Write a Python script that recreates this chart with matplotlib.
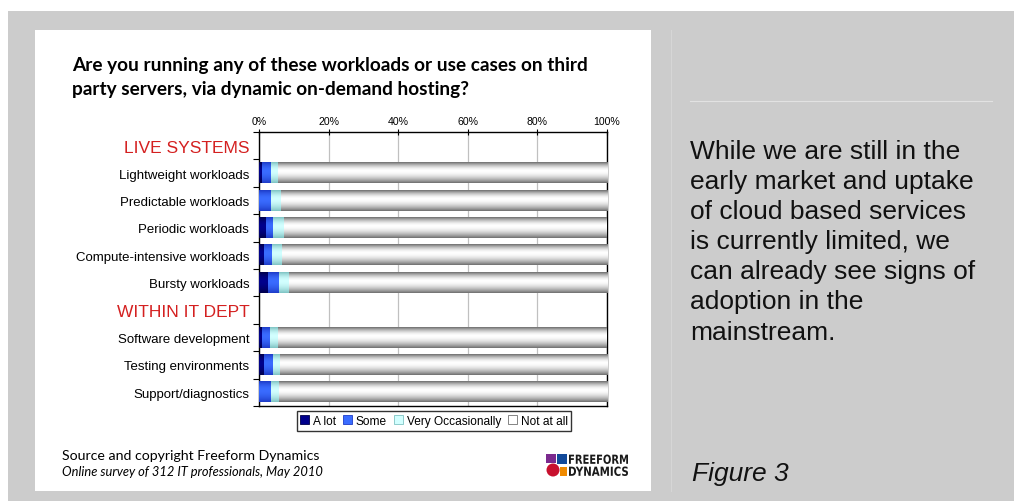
import numpy as np
import matplotlib
matplotlib.use("Agg")
import matplotlib.pyplot as plt
from matplotlib.patches import Rectangle, Ellipse, PathPatch
from matplotlib.lines import Line2D
from matplotlib.textpath import TextPath
from matplotlib.font_manager import FontProperties
from matplotlib.transforms import Affine2D

# ---- survey data (percent of respondents) ----
categories = [
    "LIVE SYSTEMS",
    "Lightweight workloads",
    "Predictable workloads",
    "Periodic workloads",
    "Compute-intensive workloads",
    "Bursty workloads",
    "WITHIN IT DEPT",
    "Software development",
    "Testing environments",
    "Support/diagnostics",
]
is_header = [True, False, False, False, False, False, True, False, False, False]

a_lot = [0, 0.8, 0.0, 1.9, 1.3, 2.5, 0, 1.0, 1.3, 0.0]
some = [0, 2.6, 3.4, 2.0, 2.3, 3.2, 0, 2.3, 2.6, 3.4]
very_occasionally = [0, 2.0, 2.9, 3.4, 2.9, 2.9, 0, 2.3, 2.0, 2.3]
not_at_all = [0, 94.6, 93.7, 92.7, 93.5, 91.4, 0, 94.4, 94.1, 94.3]

series_names = ["A lot", "Some", "Very Occasionally", "Not at all"]
xticks = [0, 20, 40, 60, 80, 100]
xtick_labels = ["0%", "20%", "40%", "60%", "80%", "100%"]

title_lines = [
    "Are you running any of these workloads or use cases on third",
    "party servers, via dynamic on-demand hosting?",
]
commentary = [
    "While we are still in the",
    "early market and uptake",
    "of cloud based services",
    "is currently limited, we",
    "can already see signs of",
    "adoption in the",
    "mainstream.",
]

# (edge colour, centre colour) for the cylinder shading of each series
shades = [
    ("#00004a", "#00008c"),
    ("#1e3cc8", "#3a6cff"),
    ("#7fc4c4", "#d2ffff"),
    ("#707070", "#ffffff"),
]

W, H = 1014, 502
fig = plt.figure(figsize=(W / 100, H / 100), dpi=100)
fig.patch.set_facecolor("white")


def px_rect(x0, y0, x1, y1, **kw):
    """Rectangle given in pixel coordinates measured from the top-left corner."""
    fig.patches.append(Rectangle((x0 / W, 1 - y1 / H), (x1 - x0) / W, (y1 - y0) / H,
                                 transform=fig.transFigure, figure=fig, **kw))


# page background and the white chart panel
px_rect(8, 12, W, H, facecolor="#cccccc", edgecolor="none", zorder=-10)
px_rect(35, 31, 651, 492, facecolor="white", edgecolor="none", zorder=-9)
fig.lines.append(Line2D([671 / W, 671 / W], [1 - 31 / H, 1 - 492 / H], transform=fig.transFigure,
                        color="#d6d6d6", lw=0.8, zorder=-8))
fig.lines.append(Line2D([690 / W, 992 / W], [1 - 102 / H, 1 - 102 / H], transform=fig.transFigure,
                        color="#e2e2e2", lw=0.8, zorder=-8))

# ---- bar chart ----
ax = fig.add_axes([259 / W, 1 - 407 / H, (607 - 259) / W, (407 - 133) / H])
ax.set_facecolor("white")
ypos = np.arange(len(categories))
bar_h = 0.73


def cylinder(edge, centre, n=48):
    e = np.array(matplotlib.colors.to_rgb(edge))
    c = np.array(matplotlib.colors.to_rgb(centre))
    t = np.linspace(0, 1, n)
    peak = 0.42
    d = np.where(t < peak, (peak - t) / peak, (t - peak) / (1 - peak))
    f = np.clip(1 - d ** 1.8, 0, 1)
    rows = e[None, :] + (c - e)[None, :] * f[:, None]
    return rows[:, None, :]


left = np.zeros(len(categories))
handles = []
for vals, name, (edge, centre) in zip([a_lot, some, very_occasionally, not_at_all], series_names, shades):
    vals = np.array(vals, dtype=float)
    bars = ax.barh(ypos, vals, left=left, height=bar_h, color=centre, edgecolor="none",
                   label=name, zorder=2)
    img = cylinder(edge, centre)
    for b in bars:
        if b.get_width() <= 0:
            continue
        x0, y0 = b.get_x(), b.get_y()
        ax.imshow(img, extent=(x0, x0 + b.get_width(), y0 + b.get_height(), y0),
                  origin="upper", aspect="auto", interpolation="bilinear", zorder=3)
    handles.append(Rectangle((0, 0), 1, 1, facecolor=centre, edgecolor=edge, lw=0.6))
    left += vals

ax.set_xlim(0, 100)
ax.set_ylim(len(categories) - 0.5, -0.5)
ax.set_aspect("auto")

ax.xaxis.tick_top()
ax.set_xticks(xticks)
ax.set_xticklabels(xtick_labels, fontsize=7.6, family="Liberation Sans")
ax.tick_params(axis="x", which="major", direction="inout", length=4, width=0.8, pad=2)
ax.grid(axis="x", color="#c0c0c0", lw=0.9, zorder=0)

ax.set_yticks(ypos)
ax.set_yticklabels(categories, family="Liberation Sans", fontsize=9.5)
ax.tick_params(axis="y", which="major", length=0, pad=7)
for lab, hdr in zip(ax.get_yticklabels(), is_header):
    if hdr:
        lab.set_color("#d42020")
        lab.set_fontsize(12.5)
ax.set_yticks(np.arange(-0.5, len(categories), 1), minor=True)
ax.tick_params(axis="y", which="minor", direction="out", length=4, width=0.8)

for s in ax.spines.values():
    s.set_color("black")
    s.set_linewidth(1.0)

leg = fig.legend(handles, series_names, loc="center", bbox_to_anchor=(434 / W, 1 - 422 / H),
                 ncol=4, frameon=True, fancybox=False, edgecolor="black",
                 handlelength=0.75, handleheight=0.75, handletextpad=0.3, columnspacing=0.6,
                 borderpad=0.3, borderaxespad=0, prop={"family": "Liberation Sans", "size": 8.6})
leg.get_frame().set_linewidth(1.0)

# ---- panel text ----
for i, line in enumerate(title_lines):
    fig.text(72 / W, 1 - (66 + 24 * i) / H, line, family="Lato", weight="bold", fontsize=13.7,
             va="center", ha="left")
fig.text(62 / W, 1 - 456 / H, "Source and copyright Freeform Dynamics", family="Lato",
         fontsize=10.2, va="center", ha="left")
fig.text(62 / W, 1 - 472 / H, "Online survey of 312 IT professionals, May 2010", family="Lato",
         style="italic", fontsize=9.3, va="center", ha="left")

# company mark
px_rect(546, 455, 556, 464, facecolor="#7b2a8e", edgecolor="none", zorder=2)
px_rect(557, 455, 567, 465, facecolor="#124a9a", edgecolor="none", zorder=2)
px_rect(560, 468, 567, 477, facecolor="#f08a00", edgecolor="none", zorder=2)
fig.patches.append(Ellipse((553 / W, 1 - 471 / H), 13 / W, 13 / H, transform=fig.transFigure,
                           figure=fig, facecolor="#c8102e", edgecolor="none", zorder=3))

logo_font = FontProperties(family="DejaVu Sans", weight="bold")
for word, ytop in [("FREEFORM", 455.5), ("DYNAMICS", 467.5)]:
    tp = TextPath((0, 0), word, size=1, prop=logo_font)
    ext = tp.get_extents()
    # squeeze the lettering into a narrow box (pixels), then map to figure coordinates
    box_w, box_h = 59.0, 9.5
    tr = (Affine2D().translate(-ext.x0, -ext.y0)
          .scale(box_w / ext.width, box_h / ext.height)
          .translate(569, H - ytop - box_h)
          .scale(1 / W, 1 / H))
    fig.patches.append(PathPatch(tr.transform_path(tp), transform=fig.transFigure, figure=fig,
                                 facecolor="#1a1a1a", edgecolor="none", zorder=3))

# ---- commentary on the right ----
for i, line in enumerate(commentary):
    fig.text(690 / W, 1 - (152 + 30.1 * i) / H, line, family="Liberation Sans", fontsize=19,
             va="center", ha="left", color="#111111")
fig.text(692 / W, 1 - 474 / H, "Figure 3", family="Liberation Sans", style="italic",
         fontsize=19, va="center", ha="left", color="#111111")

fig.savefig("out.png", dpi=100, facecolor=fig.get_facecolor())
